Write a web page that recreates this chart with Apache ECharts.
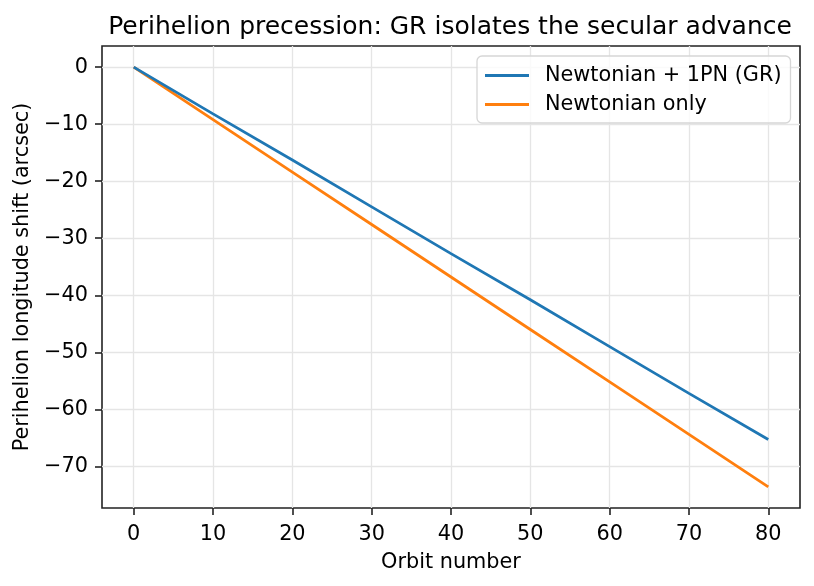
<!DOCTYPE html>
<html>
<head>
<meta charset="utf-8">
<script src="https://cdn.jsdelivr.net/npm/echarts@6/dist/echarts.min.js"></script>
<style>
  html, body { margin: 0; padding: 0; background: #fff; }
  #main { width: 814px; height: 586px; }
</style>
</head>
<body>
<div id="main"></div>
<script>
// orbit numbers and perihelion shift (arcsec)
var orbits = [0, 10, 20, 30, 40, 50, 60, 70, 80];
var grShift = [0, -8.2, -16.3, -24.5, -32.7, -40.8, -49.0, -57.2, -65.3];
var newtonShift = [0, -9.2, -18.4, -27.6, -36.8, -46.0, -55.2, -64.4, -73.6];
var xTicks = [0, 10, 20, 30, 40, 50, 60, 70, 80];
var yTicks = [0, -10, -20, -30, -40, -50, -60, -70];

function pairs(xs, ys) {
    return xs.map(function (x, i) { return [x, ys[i]]; });
}
// matplotlib style minus sign
function minus(v) {
    return String(v).replace('-', '\u2212');
}

var myChart = echarts.init(document.getElementById('main'));

var font = 'DejaVu Sans';
var lineIcon = 'path://M0,0 L44,0 L44,3 L0,3 Z';

var option = {
    animation: false,
    backgroundColor: '#fff',
    title: {
        text: 'Perihelion precession: GR isolates the secular advance',
        left: 445,
        top: 10,
        textAlign: 'center',
        textStyle: { fontFamily: font, fontSize: 25, fontWeight: 'normal', color: '#000' }
    },
    grid: { left: 102, right: 14, top: 46, bottom: 78, show: true, borderColor: '#222', borderWidth: 1.6 },
    legend: {
        orient: 'vertical',
        left: 477,
        top: 56,
        padding: [9, 9, 8, 8],
        itemWidth: 44,
        itemHeight: 3,
        itemGap: 8,
        borderColor: '#d6d6d6',
        borderWidth: 1.3,
        borderRadius: 5,
        backgroundColor: 'rgba(255,255,255,0.8)',
        textStyle: { fontFamily: font, fontSize: 20.8, color: '#000', padding: [0, 0, 0, 11] },
        data: [
            { name: 'Newtonian + 1PN (GR)', icon: lineIcon },
            { name: 'Newtonian only', icon: lineIcon }
        ]
    },
    xAxis: {
        type: 'value',
        min: -4,
        max: 84,
        name: 'Orbit number',
        nameLocation: 'middle',
        nameGap: 44,
        nameTextStyle: { fontFamily: font, fontSize: 20.8, color: '#000' },
        axisLine: { show: false, onZero: false },
        axisTick: { show: true, length: 7, customValues: xTicks, lineStyle: { color: '#222', width: 1.6 } },
        axisLabel: { customValues: xTicks, margin: 16, fontFamily: font, fontSize: 20.8, color: '#000', formatter: minus },
        splitLine: { show: true, lineStyle: { color: '#e5e5e5', width: 1.3 } }
    },
    yAxis: {
        type: 'value',
        min: -77.3,
        max: 3.7,
        name: 'Perihelion longitude shift (arcsec)',
        nameLocation: 'middle',
        nameGap: 63,
        nameTextStyle: { fontFamily: font, fontSize: 20.8, color: '#000' },
        axisLine: { show: false, onZero: false },
        axisTick: { show: true, length: 7, customValues: yTicks, lineStyle: { color: '#222', width: 1.6 } },
        axisLabel: { customValues: yTicks, margin: 14, fontFamily: font, fontSize: 20.8, color: '#000', formatter: minus },
        splitLine: { show: true, lineStyle: { color: '#e5e5e5', width: 1.3 } }
    },
    series: [
        {
            name: 'Newtonian + 1PN (GR)',
            type: 'line',
            data: pairs(orbits, grShift),
            showSymbol: false,
            lineStyle: { color: '#1f77b4', width: 2.8 },
            itemStyle: { color: '#1f77b4' },
            z: 3
        },
        {
            name: 'Newtonian only',
            type: 'line',
            data: pairs(orbits, newtonShift),
            showSymbol: false,
            lineStyle: { color: '#ff7f0e', width: 2.8 },
            itemStyle: { color: '#ff7f0e' },
            z: 2
        }
    ]
};

myChart.setOption(option);
</script>
</body>
</html>
